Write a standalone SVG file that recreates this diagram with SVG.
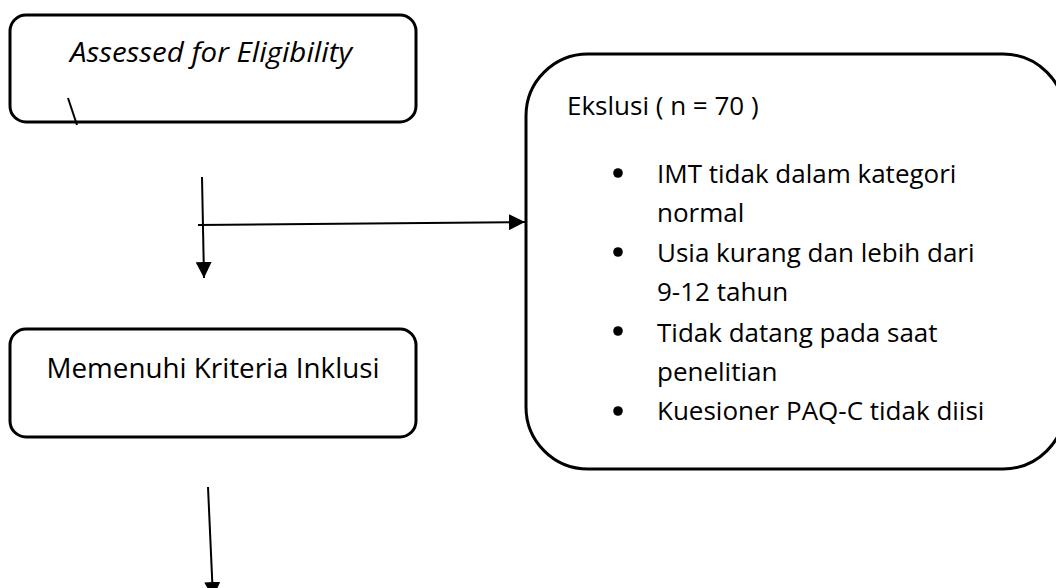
<svg xmlns="http://www.w3.org/2000/svg" width="1056" height="588" viewBox="0 0 1056 588">
<defs>
<style>
.box{fill:#fff;stroke:#000;stroke-width:3}
.t{font-family:"Open Sans","Noto Sans",sans-serif;font-size:26px;fill:#000}
.tl{font-family:"Open Sans","Noto Sans",sans-serif;font-size:27px;fill:#000}
.ln{stroke:#000;stroke-width:2;fill:none}
.b{fill:#000}
</style>
<marker id="ah" markerUnits="userSpaceOnUse" markerWidth="16" markerHeight="16" viewBox="0 0 16 16" refX="16" refY="8" orient="auto">
<path d="M0,0 L16,8 L0,16 Z" fill="#000"/>
</marker>
</defs>
<rect width="1056" height="588" fill="#fff"/>
<g id="node-assessed">
<rect class="box" x="10" y="15" width="406" height="107" rx="16"/>
<text class="tl" x="211" y="62" text-anchor="middle" font-style="italic" textLength="282" lengthAdjust="spacingAndGlyphs">Assessed for Eligibility</text>
</g>
<g id="node-ekslusi">
<rect class="box" x="526" y="54" width="539" height="415" rx="62"/>
<text class="t" x="567" y="115">Ekslusi ( n = 70 )</text>
<circle class="b" cx="618" cy="173" r="4.8"/>
<text class="t" x="657" y="183">IMT tidak dalam kategori</text>
<text class="t" x="657" y="222">normal</text>
<circle class="b" cx="618" cy="252" r="4.8"/>
<text class="t" x="657" y="262">Usia kurang dan lebih dari</text>
<text class="t" x="657" y="301">9-12 tahun</text>
<circle class="b" cx="618" cy="331" r="4.8"/>
<text class="t" x="657" y="342">Tidak datang pada saat</text>
<text class="t" x="657" y="381">penelitian</text>
<circle class="b" cx="618" cy="411" r="4.8"/>
<text class="t" x="657" y="420">Kuesioner PAQ-C tidak diisi</text>
</g>
<g id="node-inklusi">
<rect class="box" x="10" y="329" width="406" height="108" rx="16"/>
<text class="tl" x="213" y="378" text-anchor="middle" textLength="333" lengthAdjust="spacingAndGlyphs">Memenuhi Kriteria Inklusi</text>
</g>
<g id="connectors">
<line class="ln" x1="68" y1="98" x2="77" y2="125"/>
<line class="ln" x1="202" y1="177" x2="204" y2="278" marker-end="url(#ah)"/>
<line class="ln" x1="198" y1="225" x2="525" y2="222" marker-end="url(#ah)"/>
<line class="ln" x1="208" y1="487" x2="213" y2="598" marker-end="url(#ah)"/>
</g>
</svg>
